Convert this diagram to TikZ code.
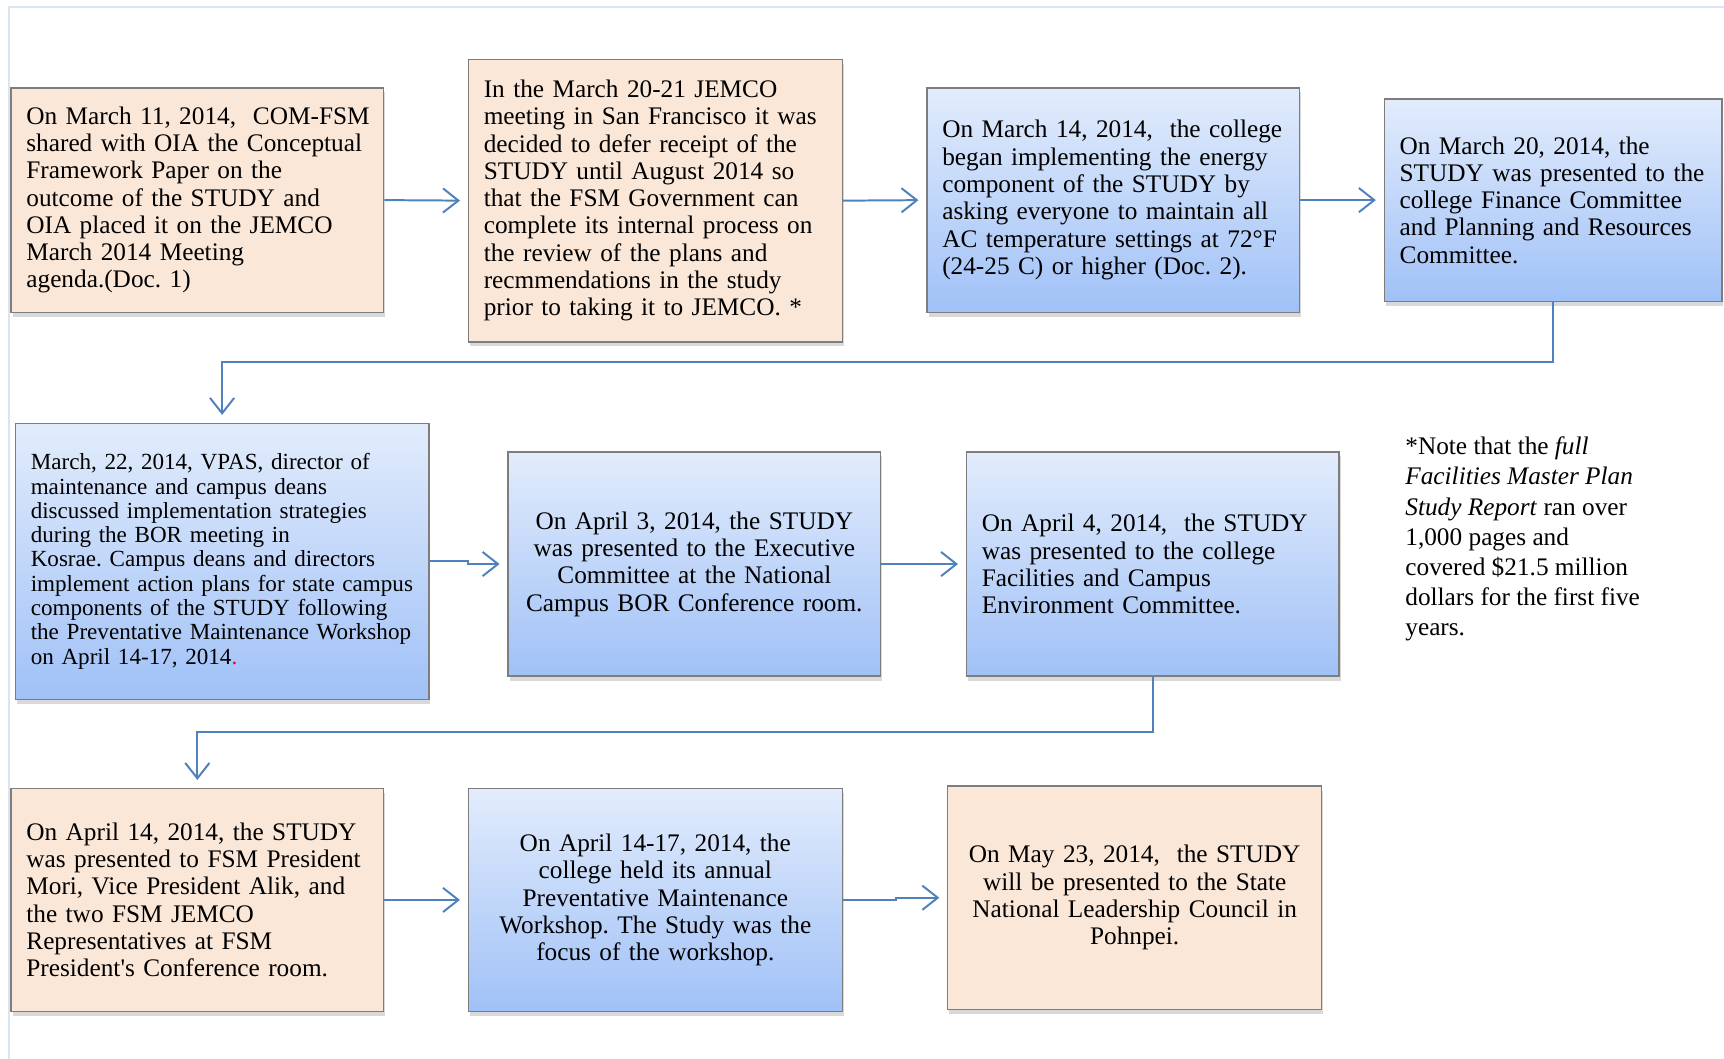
\documentclass[tikz,border=0pt]{standalone}
\usepackage{fontspec}
\setmainfont{Liberation Serif}
\usetikzlibrary{arrows.meta,shadows}

\definecolor{peachfill}{RGB}{251,231,216}
\definecolor{bluetop}{RGB}{226,236,252}
\definecolor{bluemid}{RGB}{198,217,250}
\definecolor{bluebot}{RGB}{160,193,247}
\definecolor{edgegray}{RGB}{125,125,125}
\definecolor{linkblue}{RGB}{79,129,189}
\definecolor{framecol}{RGB}{219,229,241}

\tikzset{
  box/.style={draw=edgegray, line width=1.3pt, inner xsep=14pt, inner ysep=0pt,
    font=\fontsize{23}{24.8}\selectfont\frenchspacing,
    drop shadow={shadow xshift=1.5pt, shadow yshift=-4pt, opacity=.3}},
  peachbox/.style={box, fill=peachfill},
  bluebox/.style={box, top color=bluetop, middle color=bluemid, bottom color=bluebot},
  size/.style 2 args={minimum width=#1, text width=#1-28pt, minimum height=#2},
  link/.style={draw=linkblue, line width=1.8pt, shorten >=7pt,
    -{Straight Barb[length=14pt,width=22pt]}}
}

\begin{document}
\begin{tikzpicture}[x=1pt, y=-1pt]
    \clip (0,0) rectangle (1568,963);
    % faint page frame
    \draw[framecol, line width=1.5pt] (1568,6.5) -- (8,6.5) -- (8,963);

    \node[peachbox, size={339pt}{204pt}, align=left] (b1) at (179.5,182)
      {\mbox{On March 11, 2014,\ \ COM-FSM}\\shared with OIA the Conceptual\\Framework Paper on the\\outcome of the STUDY and\\OIA placed it on the JEMCO\\March 2014 Meeting\\agenda.(Doc. 1)};
    \node[peachbox, size={340pt}{257pt}, align=left] (b2) at (596,182.5)
      {In the March 20-21 JEMCO\\meeting in San Francisco it was\\decided to defer receipt of the\\STUDY until August 2014 so\\that the FSM Government can\\complete its internal process on\\the review of the plans and\\recmmendations in the study\\prior to taking it to JEMCO. *};
    \node[bluebox, size={339pt}{204pt}, align=left] (b3) at (1012.5,182)
      {On March 14, 2014,\ \ the college\\began implementing the energy\\component of the STUDY by\\asking everyone to maintain all\\AC temperature settings at 72°F\\(24-25 C) or higher (Doc. 2).};
    \node[bluebox, size={307pt}{184pt}, align=left] (b4) at (1412.5,182)
      {On March 20, 2014, the\\STUDY was presented to the\\college Finance Committee\\and Planning and Resources\\Committee.};

    \node[bluebox, size={376pt}{251pt}, align=left, inner xsep=13pt,
      font=\fontsize{21}{22.1}\selectfont\frenchspacing] (b5) at (202,510.5)
      {March, 22, 2014, VPAS, director of\\maintenance and campus deans\\discussed implementation strategies\\during the BOR meeting in\\Kosrae. Campus deans and directors\\implement action plans for state campus\\components of the STUDY following\\the Preventative Maintenance Workshop\\on April 14-17, 2014\textcolor{red}{.}};
    \node[bluebox, size={339pt}{204pt}, align=center] (b6) at (631.5,513)
      {On April 3, 2014, the STUDY\\was presented to the Executive\\Committee at the National\\Campus BOR Conference room.};
    \node[bluebox, size={339pt}{204pt}, align=left, inner xsep=13pt] (b7) at (1048.5,513)
      {On April 4, 2014,\ \ the STUDY\\was presented to the college\\Facilities and Campus\\Environment Committee.};
    \node[align=left, anchor=north west, inner sep=0pt,
      font=\fontsize{23}{27.5}\selectfont] (note) at (1278,397)
      {*Note that the \textit{full}\\\textit{Facilities Master Plan}\\\textit{Study Report} ran over\\1,000 pages and\\covered \$21.5 million\\dollars for the first five\\years.};

    \node[peachbox, size={339pt}{203pt}, align=left] (b8) at (179.5,818.5)
      {On April 14, 2014, the STUDY\\was presented to FSM President\\Mori, Vice President Alik, and\\the two FSM JEMCO\\Representatives at FSM\\President\textquotesingle s Conference room.};
    \node[bluebox, size={340pt}{203pt}, align=center] (b9) at (596,818.5)
      {On April 14-17, 2014, the\\college held its annual\\Preventative Maintenance\\Workshop. The Study was the\\focus of the workshop.};
    \node[peachbox, size={340pt}{203pt}, align=center] (b10) at (1032,816.5)
      {On May 23, 2014,\ \ the STUDY\\will be presented to the State\\National Leadership Council in\\Pohnpei.};

    \foreach \a/\b in {b1/b2, b2/b3, b3/b4, b6/b7, b8/b9}
      \draw[link] (\a.east) -- (\b.west);
    \draw[link] (b4.south) -- ++(0,55) -| (b5.north);
    \draw[link] (b5.east) -- ++(35,0) |- (b6.west);
    \draw[link] (b7.south) -- ++(0,50) -| (b8.north);
    \draw[link] (b9.east) -- ++(48,0) |- (b10.west);
\end{tikzpicture}
\end{document}
